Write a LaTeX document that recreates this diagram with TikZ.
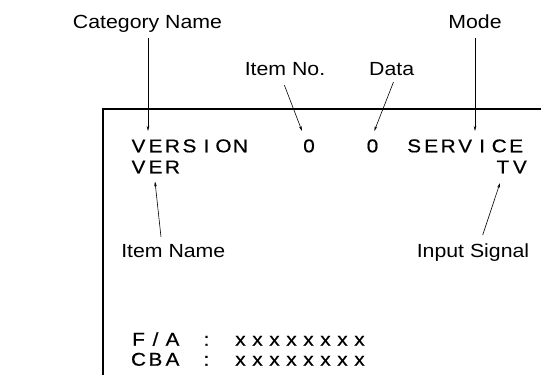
\documentclass[tikz,border=0pt]{standalone}
\usepackage{fontspec}
\setmainfont[FakeStretch=1.12]{Liberation Sans}
\newfontfamily\osdfont[FakeStretch=1.12,FakeBold=0.6]{Liberation Sans}
\usetikzlibrary{arrows.meta}
\newcommand\osdcell[1]{\makebox[17pt][c]{#1}}
\newcommand\osd[1]{\osdloop#1\relax}
\def\osdloop#1{\ifx#1\relax\else\osdcell{#1}\expandafter\osdloop\fi}
\begin{document}
\begin{tikzpicture}[x=1pt,y=-1pt,
  lbl/.style={font=\fontsize{19}{22}\selectfont, inner sep=0pt, anchor=base},
  osdtext/.style={font=\osdfont\fontsize{18.5}{21}\selectfont, inner sep=0pt, anchor=base west},
  digit/.style={font=\osdfont\fontsize{18.5}{21}\selectfont, inner sep=0pt, anchor=base},
  ptr/.style={-{Stealth[length=5pt,width=2.6pt]}, line width=0.6pt},
  frameline/.style={line width=1.3pt}]
\useasboundingbox (0,0) rectangle (541,378);
% frame
\coordinate (fr) at (541,109);
\coordinate (fc) at (103,109);
\coordinate (fb) at (103,375);
\draw[frameline] (fr) -- (fc) -- (fb);
% labels
\node[lbl] (cat) at (147.5,28.3) {Category Name};
\node[lbl] (itemno) at (285,75) {Item No.};
\node[lbl] (data) at (391.7,75) {Data};
\node[lbl] (mode) at (475,28.3) {Mode};
\node[lbl] (itemname) at (173.3,257.3) {Item Name};
\node[lbl] (input) at (473,257.3) {Input Signal};
% display text
\node[osdtext] (ver) at (129.8,152.3) {\osd{VERSION}};
\node[digit] (no) at (309,152.3) {0};
\node[digit] (dat) at (372.5,152.3) {0};
\node[osdtext] (svc) at (405.5,152.3) {\osd{SERVICE}};
\node[osdtext] (vershort) at (129.8,173.3) {\osd{VER}};
\node[osdtext] (tv) at (494.2,173.3) {\osd{TV}};
\node[osdtext] (fa) at (129.8,345.7) {\osd{F/A~:~xxxxxxxx}};
\node[osdtext] (cba) at (129.8,365.7) {\osd{CBA~:~xxxxxxxx}};
% pointer ends
\coordinate (catA) at (148,38);   \coordinate (catB) at (148,131);
\coordinate (noA) at (284.3,85);  \coordinate (noB) at (302,131);
\coordinate (datA) at (393.5,82); \coordinate (datB) at (374.3,131);
\coordinate (modeA) at (475,38);  \coordinate (modeB) at (475,131);
\coordinate (inA) at (161,237);   \coordinate (inB) at (155,181.5);
\coordinate (sgA) at (482.7,235); \coordinate (sgB) at (500,183);
\draw[ptr] (catA) -- (catB);
\draw[ptr] (noA) -- (noB);
\draw[ptr] (datA) -- (datB);
\draw[ptr] (modeA) -- (modeB);
\draw[ptr] (inA) -- (inB);
\draw[ptr] (sgA) -- (sgB);
\end{tikzpicture}
\end{document}
